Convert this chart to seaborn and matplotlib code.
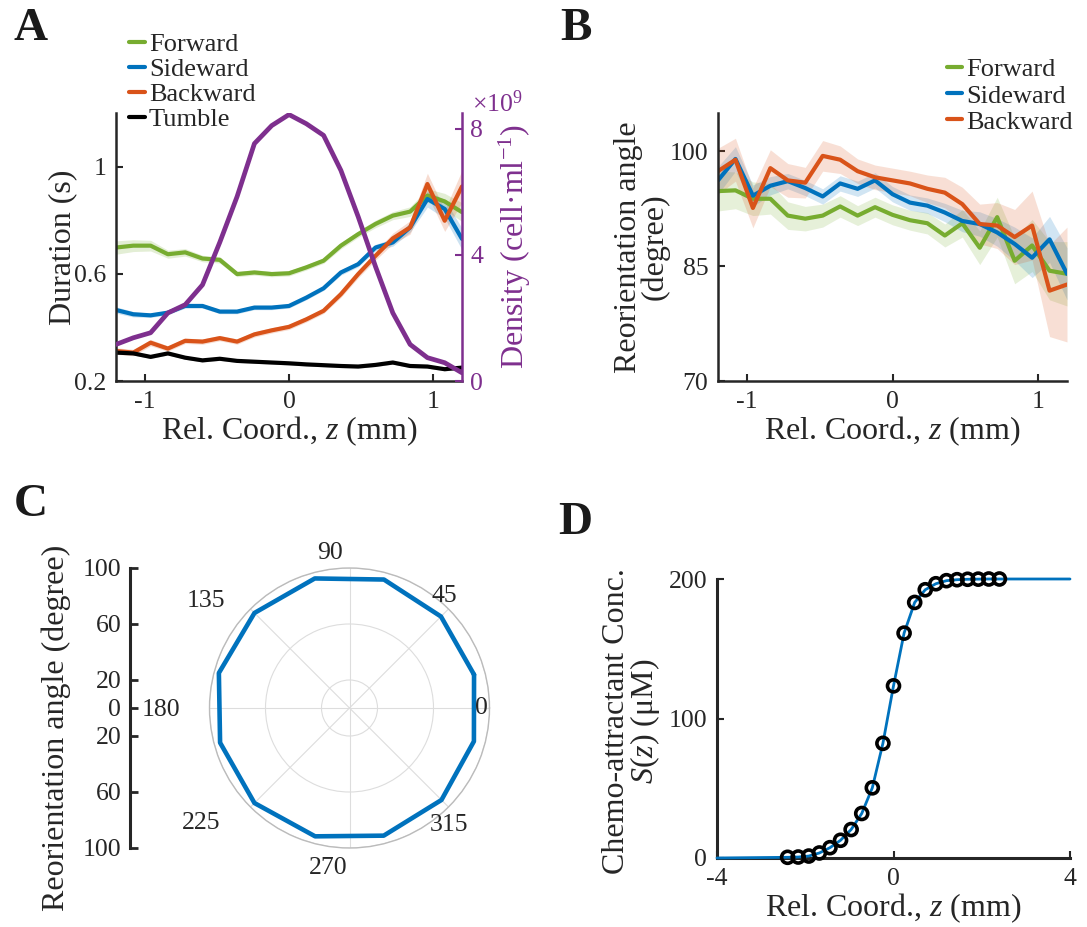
import numpy as np
import pandas as pd
import matplotlib
matplotlib.use("Agg")
import matplotlib.pyplot as plt
import seaborn as sns
from matplotlib.lines import Line2D
from matplotlib.ticker import FuncFormatter

sns.set_style("ticks")
plt.rcParams['font.family'] = ['Liberation Serif', 'DejaVu Serif']
plt.rcParams['mathtext.fontset'] = 'custom'
plt.rcParams['mathtext.rm'] = 'Liberation Serif'
plt.rcParams['mathtext.it'] = 'Liberation Serif:italic'
plt.rcParams['mathtext.bf'] = 'Liberation Serif:bold'
plt.rcParams['axes.unicode_minus'] = False
plt.rcParams['font.size'] = 19

# ---------------- data ----------------
z = [-1.2, -1.08, -0.96, -0.84, -0.72, -0.6, -0.48, -0.36, -0.24, -0.12, 0.0,
     0.12, 0.24, 0.36, 0.48, 0.6, 0.72, 0.84, 0.96, 1.08, 1.2]

# Panel A: durations (s)
dur_forward = [0.698, 0.705, 0.705, 0.673, 0.680, 0.657, 0.652, 0.599, 0.605, 0.599, 0.602,
               0.624, 0.649, 0.705, 0.748, 0.786, 0.817, 0.832, 0.892, 0.870, 0.830]
dur_sideward = [0.465, 0.449, 0.445, 0.455, 0.480, 0.480, 0.459, 0.459, 0.474, 0.474, 0.480,
                0.511, 0.546, 0.605, 0.636, 0.698, 0.717, 0.773, 0.879, 0.842, 0.730]
dur_backward = [0.312, 0.306, 0.343, 0.321, 0.350, 0.347, 0.360, 0.347, 0.374, 0.389, 0.402,
                0.430, 0.462, 0.524, 0.599, 0.667, 0.732, 0.773, 0.935, 0.798, 0.926]
dur_tumble = [0.306, 0.303, 0.290, 0.303, 0.287, 0.277, 0.283, 0.275, 0.272, 0.269, 0.266,
              0.262, 0.259, 0.256, 0.254, 0.260, 0.269, 0.256, 0.254, 0.244, 0.250]
err_forward = [0.025, 0.022, 0.020, 0.015, 0.014, 0.012, 0.012, 0.010, 0.010, 0.010, 0.010,
               0.010, 0.010, 0.012, 0.012, 0.014, 0.015, 0.018, 0.025, 0.030, 0.035]
err_sideward = [0.012, 0.010, 0.008, 0.008, 0.008, 0.008, 0.008, 0.008, 0.008, 0.008, 0.008,
                0.008, 0.008, 0.010, 0.010, 0.012, 0.014, 0.018, 0.030, 0.035, 0.040]
err_backward = [0.012, 0.012, 0.012, 0.010, 0.010, 0.010, 0.010, 0.010, 0.010, 0.010, 0.010,
                0.010, 0.010, 0.012, 0.014, 0.016, 0.020, 0.025, 0.040, 0.040, 0.060]
err_tumble = [0.006] * 21
# cell density (x 10^9 cell/ml)
density_e9 = [1.16, 1.37, 1.53, 2.16, 2.42, 3.05, 4.40, 5.85, 7.53, 8.10, 8.45,
              8.16, 7.79, 6.68, 5.21, 3.63, 2.16, 1.16, 0.74, 0.58, 0.26]

# Panel B: reorientation angle (degree)
ang_forward = [94.8, 94.9, 93.8, 93.8, 91.6, 91.2, 91.6, 92.8, 91.6, 92.7, 91.7,
               91.0, 90.6, 89.0, 90.6, 87.4, 91.4, 85.7, 87.7, 84.4, 84.0]
ang_sideward = [96.2, 99.0, 94.2, 95.5, 96.1, 95.2, 94.1, 95.8, 95.1, 96.2, 94.4,
                93.3, 92.9, 92.0, 90.9, 90.5, 89.4, 87.9, 86.1, 88.5, 84.0]
ang_backward = [97.4, 98.9, 92.6, 97.8, 96.2, 95.9, 99.4, 98.9, 97.4, 96.6, 96.2,
                95.8, 95.1, 94.6, 93.1, 90.5, 90.3, 88.8, 90.3, 81.8, 82.6]
aerr_forward = [2.6, 2.4, 2.2, 2.0, 1.8, 1.6, 1.5, 1.4, 1.3, 1.3, 1.3,
                1.3, 1.4, 1.5, 1.8, 2.2, 2.6, 3.0, 3.4, 3.8, 4.2]
aerr_sideward = [1.8, 1.6, 1.4, 1.2, 1.0, 1.0, 1.0, 1.0, 1.0, 1.0, 1.0,
                 1.0, 1.0, 1.2, 1.4, 1.6, 1.8, 2.2, 2.6, 3.0, 3.4]
aerr_backward = [3.0, 2.8, 2.6, 2.4, 2.2, 2.0, 2.0, 1.8, 1.6, 1.6, 1.6,
                 1.6, 1.8, 2.0, 2.2, 2.6, 3.0, 3.6, 4.5, 6.0, 7.5]

# Panel C: polar reorientation angle
polar_theta_deg = [15, 45, 75, 105, 135, 165, 195, 225, 255, 285, 315, 345]
polar_r = [92.1, 92.4, 95.0, 95.8, 96.0, 96.6, 95.7, 96.0, 94.9, 94.4, 92.9, 92.0]
theta_labels = ['0', '45', '90', '135', '180', '225', '270', '315']

# Panel D: chemo-attractant concentration (uM)
zD = [-2.4, -2.16, -1.92, -1.68, -1.44, -1.2, -0.96, -0.72, -0.48, -0.24, 0.0,
      0.24, 0.48, 0.72, 0.96, 1.2, 1.44, 1.68, 1.92, 2.16, 2.4]
S_points = [0.5, 0.7, 1.4, 3.6, 7.4, 12.7, 20.4, 31.9, 50.3, 82.2, 123.4,
            161.2, 183.2, 192.3, 196.6, 198.8, 199.5, 199.8, 199.9, 200.0, 200.0]
D_xlim = [-4, 4]
S_low, S_high = 0.0, 200.0

GREEN = '#77AC30'
BLUE = '#0072BD'
ORANGE = '#D95319'
PURPLE = '#7E2F8E'
BLACK = '#000000'
AX = '#262626'

LAB = 23      # axis label size
TICK = 18.5   # tick label size
LEG = 19      # legend size

FW, FH = 1087, 927
fig = plt.figure(figsize=(FW / 100, FH / 100), dpi=100)


def rect(l, t, r, b):
    return [l / FW, 1 - b / FH, (r - l) / FW, (b - t) / FH]


def style_axes(ax, lw=1.8):
    for s in ['top', 'right']:
        ax.spines[s].set_visible(False)
    for s in ['left', 'bottom']:
        ax.spines[s].set_linewidth(lw)
        ax.spines[s].set_color(AX)
    ax.tick_params(direction='in', length=5, width=1.5, labelsize=TICK, pad=7,
                   colors=AX, labelcolor=AX)


# ---------------- Panel A ----------------
A_l, A_t, A_r, A_b = 116, 113, 462, 381
axA = fig.add_axes(rect(A_l, A_t, A_r, A_b))
series_A = [("Forward", dur_forward, err_forward, GREEN),
            ("Sideward", dur_sideward, err_sideward, BLUE),
            ("Backward", dur_backward, err_backward, ORANGE),
            ("Tumble", dur_tumble, err_tumble, BLACK)]
for name, y, e, c in series_A:
    y = np.array(y); e = np.array(e)
    axA.fill_between(z, y - e, y + e, color=c, alpha=0.2, lw=0)
    sns.lineplot(x=z, y=y, ax=axA, color=c, lw=3.0, legend=False)
axA.set_xlim(-1.2, 1.2)
axA.set_ylim(0.2, 1.2)
axA.set_xticks([-1, 0, 1])
axA.set_yticks([0.2, 0.6, 1.0])
axA.set_yticklabels(['0.2', '0.6', '1'])
style_axes(axA)
axA.set_xlabel('Rel. Coord., $z$ (mm)', fontsize=LAB, color=AX, labelpad=1)
axA.set_ylabel('Duration (s)', fontsize=LAB, color=AX)
axA.yaxis.set_label_coords((77 - A_l) / (A_r - A_l), 0.5)

axA2 = axA.twinx()
sns.lineplot(x=z, y=np.array(density_e9) * 1e9, ax=axA2, color=PURPLE, lw=3.4, legend=False)
axA2.set_ylim(0, 8.5e9)
axA2.set_yticks([0, 4e9, 8e9])
axA2.yaxis.set_major_formatter(FuncFormatter(lambda v, p: f"{v / 1e9:g}"))
for s in ['top', 'left', 'bottom']:
    axA2.spines[s].set_visible(False)
axA2.spines['right'].set_color(PURPLE)
axA2.spines['right'].set_linewidth(1.8)
axA2.tick_params(direction='in', length=5, width=1.5, labelsize=TICK, pad=6,
                 colors=PURPLE, labelcolor=PURPLE)
axA2.set_ylabel('Density (cell·ml$^{-1}$)', fontsize=LAB, color=PURPLE)
axA2.yaxis.set_label_coords((497 - A_l) / (A_r - A_l), 0.5)
fig.text(472 / FW, 1 - 104 / FH, '×10$^{9}$', color=PURPLE, fontsize=TICK,
         ha='left', va='center')

handlesA = [Line2D([], [], color=c, lw=3) for _, _, _, c in series_A]
axA2.legend(handlesA, [n for n, _, _, _ in series_A], loc='upper left',
            bbox_to_anchor=(129 / FW, 1 - 33 / FH), bbox_transform=fig.transFigure,
            frameon=False, handlelength=0.6, handletextpad=0.15, labelspacing=0.05,
            borderpad=0, borderaxespad=0, fontsize=LEG)

# ---------------- Panel B ----------------
B_l, B_t, B_r, B_b = 718, 113, 1067, 381
axB = fig.add_axes(rect(B_l, B_t, B_r, B_b))
series_B = [("Forward", ang_forward, aerr_forward, GREEN),
            ("Sideward", ang_sideward, aerr_sideward, BLUE),
            ("Backward", ang_backward, aerr_backward, ORANGE)]
for name, y, e, c in series_B:
    y = np.array(y); e = np.array(e)
    axB.fill_between(z, y - e, y + e, color=c, alpha=0.18, lw=0)
for name, y, e, c in series_B:
    sns.lineplot(x=z, y=y, ax=axB, color=c, lw=3.0, legend=False)
axB.set_xlim(-1.2, 1.2)
axB.set_ylim(70, 105)
axB.set_xticks([-1, 0, 1])
axB.set_yticks([70, 85, 100])
style_axes(axB)
axB.set_xlabel('Rel. Coord., $z$ (mm)', fontsize=LAB, color=AX, labelpad=1)
axB.set_ylabel('Reorientation angle\n(degree)', fontsize=LAB, color=AX, linespacing=0.9)
axB.yaxis.set_label_coords((670 - B_l) / (B_r - B_l), 0.5)
handlesB = [Line2D([], [], color=c, lw=3) for _, _, _, c in series_B]
axB.legend(handlesB, [n for n, _, _, _ in series_B], loc='upper right',
           bbox_to_anchor=(1073 / FW, 1 - 58 / FH), bbox_transform=fig.transFigure,
           frameon=False, handlelength=0.6, handletextpad=0.15, labelspacing=0.1,
           borderpad=0, borderaxespad=0, fontsize=LEG)

# ---------------- Panel C ----------------
C_l, C_r = 129.5, 160
axCl = fig.add_axes(rect(C_l, 568, C_r, 848))
axCl.set_ylim(-100, 100)
axCl.set_yticks([-100, -60, -20, 0, 20, 60, 100])
axCl.set_yticklabels(['100', '60', '20', '0', '20', '60', '100'])
axCl.set_xticks([])
axCl.patch.set_alpha(0)
for s in ['top', 'right', 'bottom']:
    axCl.spines[s].set_visible(False)
axCl.spines['left'].set_linewidth(2.2)
axCl.spines['left'].set_color(AX)
axCl.tick_params(axis='y', direction='in', length=6, width=2, labelsize=TICK, pad=6,
                 colors=AX, labelcolor=AX)
axCl.set_ylabel('Reorientation angle (degree)', fontsize=LAB, color=AX)
axCl.yaxis.set_label_coords((71 - C_l) / (C_r - C_l), 0.43)

axP = fig.add_axes(rect(209.5, 568, 489.5, 848), projection='polar')
th = np.deg2rad(polar_theta_deg + [polar_theta_deg[0] + 360])
rr = polar_r + [polar_r[0]]
sns.lineplot(x=th, y=rr, ax=axP, color=BLUE, lw=3.3, sort=False, legend=False)
axP.set_rlim(0, 100)
axP.set_rticks([20, 60, 100])
axP.set_yticklabels([])
axP.set_xticks(np.deg2rad([0, 45, 90, 135, 180, 225, 270, 315]))
axP.set_xticklabels([])
axP.grid(True, color='#dddddd', lw=0.8)
axP.spines['polar'].set_color('#bbbbbb')
axP.spines['polar'].set_linewidth(1.0)
axP.set_xlabel('')
axP.set_ylabel('')
lab_pos = [(0, 94.5), (49.7, 104.7), (97, 111.9), (143.4, 127.9), (180.7, 135),
           (217.7, 134.2), (262.5, 115.4), (310.6, 109.6)]
for lab, (a, r) in zip(theta_labels, lab_pos):
    axP.text(np.deg2rad(a), r, lab, ha='center', va='center', fontsize=TICK, color=AX,
             clip_on=False)

# ---------------- Panel D ----------------
D_l, D_t, D_r, D_b = 717, 579, 1070, 858
axD = fig.add_axes(rect(D_l, D_t, D_r, D_b))
xD = [D_xlim[0]] + zD + [D_xlim[1]]
yD = [S_low] + S_points + [S_high]
sns.lineplot(x=xD, y=yD, ax=axD, color=BLUE, lw=2.0, legend=False, sort=False,
             clip_on=False, zorder=5)
sns.scatterplot(x=zD, y=S_points, ax=axD, marker='o', s=75, facecolor='none',
                edgecolor='black', linewidth=2.6, zorder=6, clip_on=False, legend=False)
axD.set_xlim(-4, 4)
axD.set_ylim(0, 200)
axD.set_xticks([-4, 0, 4])
axD.set_yticks([0, 100, 200])
style_axes(axD, lw=2.2)
axD.set_xlabel('Rel. Coord., $z$ (mm)', fontsize=LAB, color=AX, labelpad=1)
axD.set_ylabel('Chemo-attractant Conc.\n$S$($z$) (μM)', fontsize=LAB, color=AX,
               linespacing=0.9)
axD.yaxis.set_label_coords((662 - D_l) / (D_r - D_l), 0.49)

# ---------------- panel letters ----------------
for letter, x, y in [('A', 14, 8), ('B', 560, 8), ('C', 14, 484), ('D', 558, 502)]:
    fig.text(x / FW, 1 - y / FH, letter, fontsize=34, fontweight='bold', va='top',
             ha='left', color='#1a1a1a')

fig.savefig('out.png', dpi=100)
